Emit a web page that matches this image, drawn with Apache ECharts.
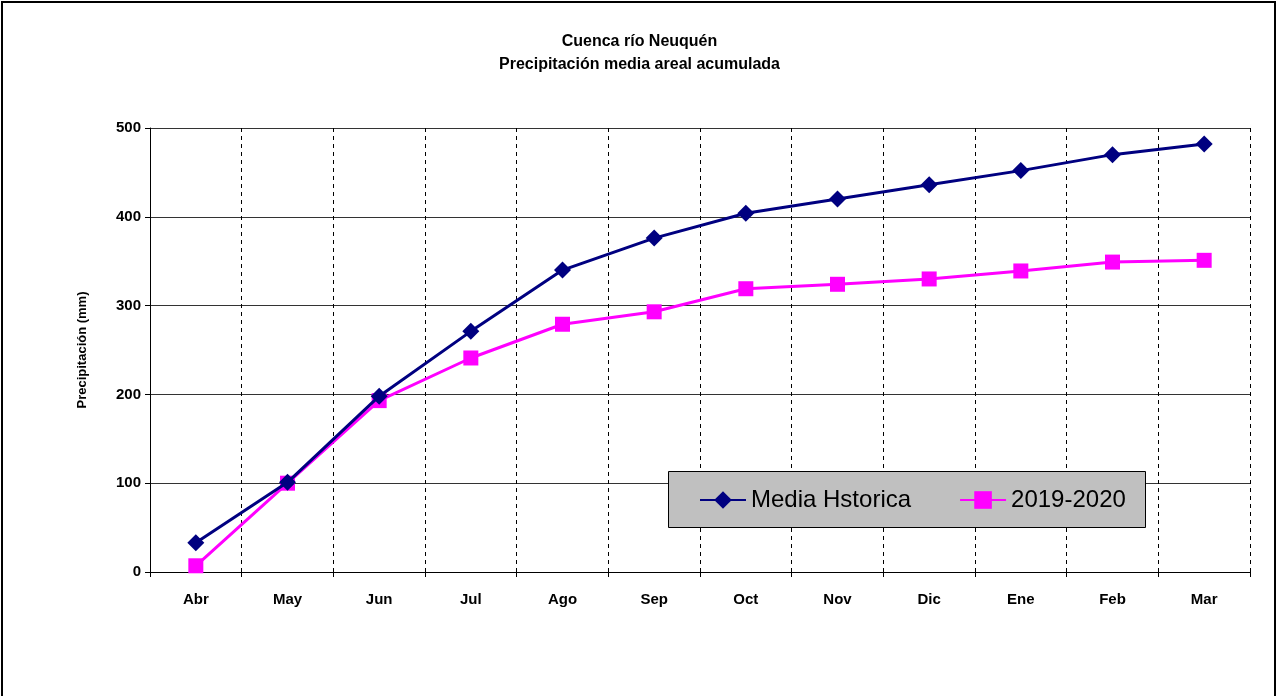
<!DOCTYPE html>
<html>
<head>
<meta charset="utf-8">
<script src="https://cdn.jsdelivr.net/npm/echarts@6/dist/echarts.min.js"></script>
<style>
  html, body { margin: 0; padding: 0; background: #fff; }
  #chart { width: 1279px; height: 696px; }
</style>
</head>
<body>
<div id="chart"></div>
<script>
// Months of the hydrological year (April to March)
const months = ['Abr', 'May', 'Jun', 'Jul', 'Ago', 'Sep', 'Oct', 'Nov', 'Dic', 'Ene', 'Feb', 'Mar'];
// Accumulated areal mean precipitation (mm)
const mediaHistorica = [33, 101, 198, 271, 340, 376, 404, 420, 436, 452, 470, 482];
const season2019 = [7, 100, 193, 241, 279, 293, 319, 324, 330, 339, 349, 351];
const yTicks = [0, 100, 200, 300, 400, 500];

const sans = '"Liberation Sans", Arial, sans-serif';
const chart = echarts.init(document.getElementById('chart'));

chart.setOption({
  backgroundColor: '#fff',
  animation: false,
  title: {
    text: 'Cuenca río Neuquén\nPrecipitación media areal acumulada',
    left: 'center',
    top: 25,
    textStyle: { fontFamily: sans, fontSize: 16, fontWeight: 'bold', color: '#000', lineHeight: 23 }
  },
  graphic: [
    { type: 'rect', z: 0, silent: true,
      shape: { x: 2, y: 2, width: 1273, height: 720 },
      style: { fill: null, stroke: '#000', lineWidth: 2 } },
    { type: 'rect', z: 5, silent: true,
      shape: { x: 668.5, y: 471.5, width: 477, height: 56 },
      style: { fill: '#c0c0c0', stroke: '#000', lineWidth: 1 } }
  ],
  legend: {
    z: 10,
    left: 694,
    top: 483,
    itemWidth: 46,
    itemHeight: 22,
    itemGap: 48,
    textStyle: { fontFamily: sans, fontSize: 24, color: '#000' },
    data: ['Media Hstorica', '2019-2020']
  },
  grid: { left: 150, right: 29, top: 128, bottom: 124, containLabel: false },
  xAxis: {
    type: 'category',
    data: months,
    boundaryGap: true,
    axisLine: { lineStyle: { color: '#000', width: 1 } },
    axisTick: { show: true, length: 5, lineStyle: { color: '#000' } },
    axisLabel: { fontFamily: sans, fontSize: 15, fontWeight: 'bold', color: '#000', margin: 20 },
    splitLine: { show: true, lineStyle: { color: '#000', type: [4, 4], width: 1 } }
  },
  yAxis: {
    type: 'value',
    min: 0, max: 500, interval: 100,
    name: 'Precipitación (mm)',
    nameLocation: 'middle',
    nameGap: 61,
    nameTextStyle: { fontFamily: sans, fontSize: 13, fontWeight: 'bold', color: '#000' },
    axisLine: { show: true, lineStyle: { color: '#000', width: 1 } },
    axisTick: { show: true, length: 5, lineStyle: { color: '#000' } },
    axisLabel: {
      fontFamily: sans, fontSize: 15, fontWeight: 'bold', color: '#000', margin: 9,
      formatter: v => yTicks.includes(v) ? String(v) : ''
    },
    splitLine: { show: true, lineStyle: { color: '#333', width: 1 } }
  },
  series: [
    {
      name: 'Media Hstorica',
      type: 'line',
      data: mediaHistorica,
      symbol: 'diamond',
      symbolSize: 17,
      lineStyle: { color: '#000080', width: 3 },
      itemStyle: { color: '#000080' },
      z: 3
    },
    {
      name: '2019-2020',
      type: 'line',
      data: season2019,
      symbol: 'rect',
      symbolSize: 15,
      lineStyle: { color: '#ff00ff', width: 3 },
      itemStyle: { color: '#ff00ff' },
      z: 2
    }
  ]
});
</script>
</body>
</html>
